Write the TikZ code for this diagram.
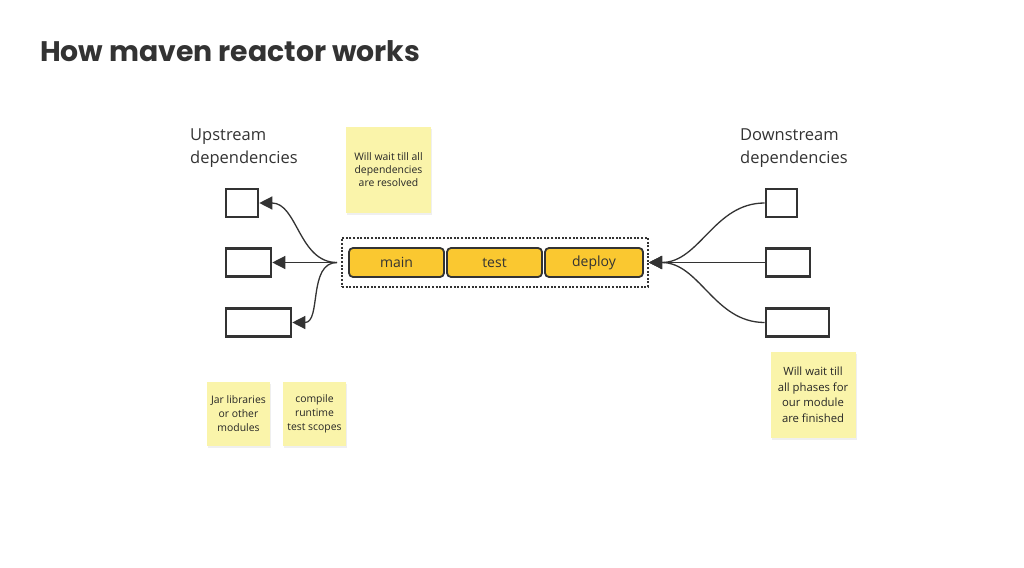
\documentclass[tikz,border=0pt]{standalone}
\usepackage{fontspec}
\setmainfont{Open Sans}
\newfontfamily\titlefont{Poppins}
\usetikzlibrary{arrows.meta,shadows}

\definecolor{ink}{RGB}{51,51,51}
\definecolor{sticky}{RGB}{250,244,170}
\definecolor{phase}{RGB}{250,200,48}

\tikzset{
  depbox/.style={draw=ink, line width=2.6pt, fill=white, minimum height=28pt, inner sep=0pt},
  phasebox/.style={draw=ink, line width=1.8pt, fill=phase, rounded corners=4pt, minimum width=95pt, minimum height=29pt, inner sep=0pt, font=\fontsize{14}{16}\selectfont, text=ink},
  note/.style={fill=sticky, minimum width=85pt, minimum height=86pt, inner sep=0pt, align=center, font=\fontsize{10.4}{13}\selectfont, text=black!85, drop shadow={shadow xshift=1pt, shadow yshift=-2pt, opacity=0.12}},
  heading/.style={anchor=north west, inner sep=0pt, align=left, font=\fontsize{16.5}{23}\selectfont, text=ink},
  dep/.style={draw=ink, line width=1.3pt, -{Triangle[length=13pt,width=13pt]}},
}

\begin{document}
\begin{tikzpicture}[x=1pt, y=-1pt]
    \useasboundingbox[fill=white] (0,0) rectangle (1024,567);
    \node[anchor=base west, inner sep=0pt, text=ink, font=\titlefont\bfseries\fontsize{28.3}{31}\selectfont] (title) at (40,62) {How maven reactor works};

    \node[heading] (upstream) at (190,129) {Upstream\\dependencies};
    \node[heading] (downstream) at (740,129) {Downstream\\dependencies};

    \node[depbox, minimum width=32pt] (up1) at (242,203) {};
    \node[depbox, minimum width=45pt] (up2) at (248.5,262.5) {};
    \node[depbox, minimum width=65pt] (up3) at (258.5,322.5) {};

    \node[depbox, minimum width=31pt] (down1) at (781.5,203) {};
    \node[depbox, minimum width=44pt] (down2) at (788,262.5) {};
    \node[depbox, minimum width=63pt] (down3) at (797.5,322.5) {};

    \node[draw=ink, line width=2pt, dash pattern=on 2pt off 1.6pt, minimum width=306pt, minimum height=49pt] (reactor) at (495,262.5) {};
    \node[phasebox] (main) at (396.5,262.5) {main};
    \node[phasebox] (test) at (494.5,262.5) {test};
    \node[phasebox, minimum width=98pt] (deploy) at (594,262.5) {deploy};

    \coordinate (src) at ([xshift=-4pt]reactor.west);
    \draw[dep] (src) to[out=180,in=0] (up1.east);
    \draw[dep] (src) -- (up2.east);
    \draw[dep] (src) to[out=180,in=0] (up3.east);

    \draw[dep] (down1.west) to[out=180,in=0] (reactor.east);
    \draw[dep] (down2.west) -- (reactor.east);
    \draw[dep] (down3.west) to[out=180,in=0] (reactor.east);

    \node[note] (waitdeps) at (388.5,170) {Will wait till all\\dependencies\\are resolved};
    \node[note, minimum width=63pt, minimum height=64pt, font=\fontsize{10.4}{14}\selectfont] (jars) at (238.5,414) {Jar libraries\\or other\\modules};
    \node[note, minimum width=63pt, minimum height=64pt, font=\fontsize{10.4}{14}\selectfont] (scopes) at (314.5,414) {compile\\runtime\\test scopes};
    \node[note, font=\fontsize{11.3}{15.5}\selectfont] (waitphases) at (813,395) {Will wait till\\all phases for\\our module\\are finished};
  \end{tikzpicture}
\end{document}
